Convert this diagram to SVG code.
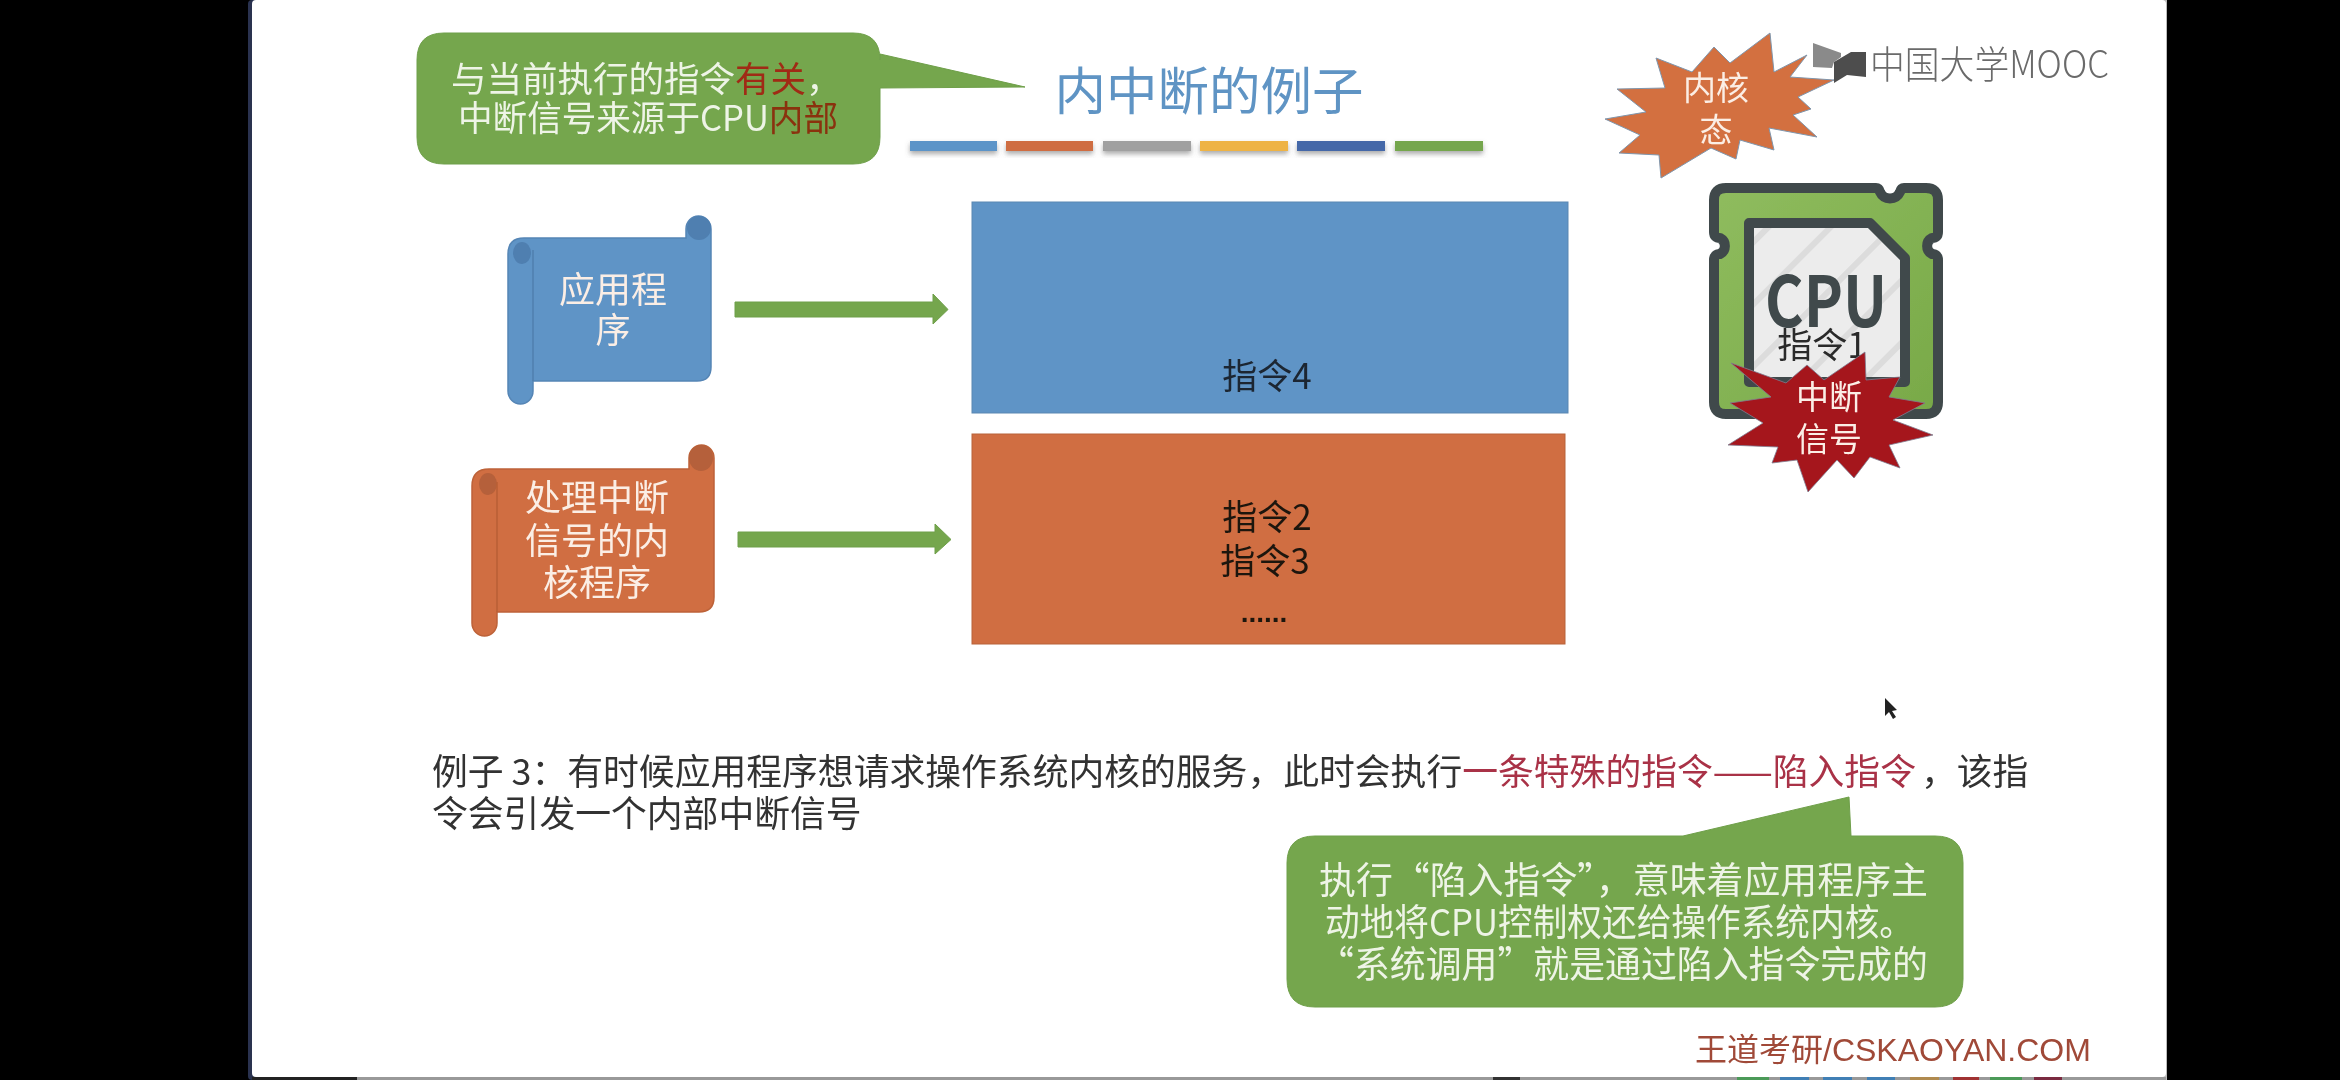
<svg xmlns="http://www.w3.org/2000/svg" width="2340" height="1080" viewBox="0 0 2340 1080">
<style>
text{font-family:"Noto Sans CJK SC","Liberation Sans",sans-serif}
.c{text-anchor:middle}
.w{fill:#eef4e6;font-size:35.500px}
.wb{fill:#eef4e6;font-size:37px}
.k{fill:#1c2530;font-size:35px}
.lbl{fill:#fbeee5;font-size:35px}
.body{fill:#333;font-size:35.800px}
.red{fill:#a93246}
.g{fill:#74a64d;stroke:#6f9f4a;stroke-width:1}
.bar{filter:url(#sh)}
.curl{stroke-width:1.5}
</style>
<defs>
<filter id="soft" x="0" y="0" width="100%" height="100%"><feGaussianBlur stdDeviation="0.6"/></filter>
<filter id="sh" x="-10%" y="-50%" width="120%" height="220%"><feDropShadow dx="0" dy="3" stdDeviation="2.5" flood-color="#555" flood-opacity=".5"/></filter>
<linearGradient id="chipg" x1="0" y1="0" x2="1" y2="1"><stop offset="0" stop-color="#8fbc5e"/><stop offset="1" stop-color="#78a948"/></linearGradient>
<pattern id="st" width="44" height="44" patternUnits="userSpaceOnUse" patternTransform="rotate(45)"><rect width="44" height="44" fill="#ececec"/><rect width="6" height="44" fill="#dcdcdc"/></pattern>
</defs>

<rect width="2340" height="1080" fill="#000"/>
<g filter="url(#soft)">
<g id="slide">
<rect x="248" y="0" width="1919" height="1080" rx="4" fill="#2a3350"/>
<rect x="2160" y="0" width="7" height="1080" fill="#bbb"/>
<rect x="252" y="0" width="1914" height="1077" rx="4" fill="#fff"/>
<rect x="252" y="1077" width="1914" height="3" fill="#999"/>
<rect x="252" y="1077" width="105" height="3" fill="#222"/>
<rect x="1493" y="1077" width="27" height="3" fill="#333"/>
<rect x="1737" y="1077" width="32" height="3" fill="#4c9a58"/>
<rect x="1780" y="1077" width="29" height="3" fill="#3f7fb5"/>
<rect x="1823" y="1077" width="29" height="3" fill="#3f7fb5"/>
<rect x="1867" y="1077" width="28" height="3" fill="#3f7fb5"/>
<rect x="1910" y="1077" width="29" height="3" fill="#b08a50"/>
<rect x="1953" y="1077" width="26" height="3" fill="#a03030"/>
<rect x="1990" y="1077" width="32" height="3" fill="#4c9a58"/>
<rect x="2034" y="1077" width="28" height="3" fill="#7a2a40"/>
</g>

<g id="title">
<text class="c" x="1209" y="110" font-size="51.500" fill="#5f94c4">内中断的例子</text>
<rect class="bar" x="910" y="141" width="87" height="10" fill="#5b94c8"/>
<rect class="bar" x="1006" y="141" width="87" height="10" fill="#cf6d42"/>
<rect class="bar" x="1103" y="141" width="88" height="10" fill="#a0a0a0"/>
<rect class="bar" x="1200" y="141" width="88" height="10" fill="#eeb345"/>
<rect class="bar" x="1297" y="141" width="88" height="10" fill="#4468a8"/>
<rect class="bar" x="1395" y="141" width="88" height="10" fill="#74a64e"/>
</g>

<g id="callout-top">
<path class="g" d="M444 33H853Q880 33 880 60V54L1025 87L880 88V137Q880 164 853 164H444Q417 164 417 137V60Q417 33 444 33Z"/>
<text class="w"><tspan x="451" y="92">与当前执行的指令<tspan fill="#a02a12">有关</tspan>，</tspan><tspan x="458" y="131" textLength="380" lengthAdjust="spacingAndGlyphs">中断信号来源于CPU<tspan fill="#8a3010">内部</tspan></tspan></text>
</g>

<g id="scroll-app">
<path d="M508 254Q508 238 524 238H686V229A12.500 13 0 0 1 711 229V367Q711 381 697 381H533V391A12.500 13 0 0 1 508 391Z" fill="#5f94c6" stroke="#5585b5" stroke-width="1.500"/>
<ellipse class="curl" cx="699" cy="228" rx="12" ry="12" fill="#4f7fb0"/>
<ellipse class="curl" cx="522" cy="253" rx="9" ry="11" fill="#4f7fb0"/>
<path d="M533 250V381" stroke="#4f7fae" stroke-width="1.500" fill="none"/>
<text class="lbl c"><tspan x="613" y="303" style="font-size:36px">应用程</tspan><tspan x="613" y="343">序</tspan></text>
</g>

<g id="scroll-kernel">
<path d="M472 486Q472 469 489 469H689V458A12.500 13 0 0 1 714 458V597Q714 612 699 612H497V623A12.500 13 0 0 1 472 623Z" fill="#d06e42" stroke="#bd6238" stroke-width="1.500"/>
<ellipse class="curl" cx="701" cy="458" rx="12" ry="13" fill="#b5603a"/>
<ellipse class="curl" cx="488" cy="484" rx="9" ry="11" fill="#b5603a"/>
<path d="M497 482V612" stroke="#b85f35" stroke-width="1.500" fill="none"/>
<text class="lbl c" style="font-size:36px"><tspan x="597" y="511">处理中断</tspan><tspan x="597" y="554">信号的内</tspan><tspan x="597" y="596">核程序</tspan></text>
</g>

<g id="connectors">
<polygon class="g" points="735,302 933,302 933,294 948,309.500 933,324 933,317 735,317"/>
<polygon class="g" points="738,532 935,532 935,524 951,539.500 935,554 935,547 738,547"/>
</g>

<g id="block-app">
<rect x="972" y="202" width="596" height="211" fill="#5f94c6" stroke="#5a87b2" stroke-width="1"/>
<text class="k c" x="1267" y="389">指令4</text>
</g>

<g id="block-kernel">
<rect x="972" y="434" width="593" height="210" fill="#d06e42" stroke="#b8633a" stroke-width="1"/>
<text class="c" fill="#1f1610" font-size="35"><tspan x="1267" y="530">指令2</tspan><tspan x="1265" y="574">指令3</tspan></text>
<text class="c" x="1264" y="622" font-size="28" font-weight="700" fill="#1f1610" style="font-family:'Liberation Sans',sans-serif">......</text>
</g>

<g id="burst-kernel-mode">
<polygon fill="#d3703f" stroke="#7f96ad" stroke-width="1" points="1770,33 1774,72 1807,55 1790,77 1834,80 1798,97 1811,109 1793,115 1817,137 1769,128 1774,150 1740,140 1736,159 1711,148 1661,178 1659,155 1619,153 1640,135 1605,119 1646,112 1617,89 1665,88 1656,58 1692,72 1714,47 1730,63"/>
<text class="lbl c" style="font-size:33px"><tspan x="1716" y="100">内核</tspan><tspan x="1716" y="142">态</tspan></text>
</g>

<g id="cpu">
<path d="M1726 188H1876Q1879 188 1880 192A11 11 0 0 0 1900 192Q1901 188 1904 188H1926Q1938 188 1938 200V232Q1938 238 1932 238A9 9 0 0 0 1932 254Q1938 254 1938 260V402Q1938 414 1926 414H1726Q1714 414 1714 402V260Q1714 254 1720 254A9 9 0 0 0 1720 238Q1714 238 1714 232V200Q1714 188 1726 188Z" fill="url(#chipg)" stroke="#3f4a4c" stroke-width="10" stroke-linejoin="round"/>
<path d="M1749 223H1870L1905 258V382H1749Z" fill="url(#st)" stroke="#3f4a4c" stroke-width="10" stroke-linejoin="round"/>
<text class="c" x="1826" y="327" font-family="DejaVu Sans" font-weight="700" font-size="70" fill="#3f4a4c" textLength="122" lengthAdjust="spacingAndGlyphs">CPU</text>
<text class="c" x="1822" y="358" font-size="35" fill="#2a2a2a">指令1</text>
</g>

<g id="burst-signal">
<polygon fill="#a5121e" stroke="#7f7f8f" stroke-width=".8" points="1731,363 1786,383 1807,365 1824,380 1865,352 1866,380 1900,377 1889,397 1925,403 1893,420 1933,435 1889,445 1900,468 1870,457 1854,478 1837,460 1808,492 1797,460 1772,463 1778,447 1728,445 1763,423 1730,403 1771,397"/>
<text class="lbl c" style="font-size:33px"><tspan x="1829" y="409">中断</tspan><tspan x="1829" y="451">信号</tspan></text>
</g>

<g id="description">
<text class="body"><tspan x="432" y="785">例子 3：有时候应用程序想请求操作系统内核的服务，此时会执行<tspan class="red">一条特殊的指令——陷入指令</tspan><tspan dx="5">，该指</tspan></tspan><tspan x="432" y="827">令会引发一个内部中断信号</tspan></text>
</g>

<g id="callout-bottom">
<path class="g" d="M1315 836H1683L1849 797L1851 836H1935Q1963 836 1963 863V979Q1963 1007 1935 1007H1315Q1287 1007 1287 979V863Q1287 836 1315 836Z"/>
<text class="wb"><tspan x="1319" y="894" textLength="609" lengthAdjust="spacingAndGlyphs">执行“陷入指令”，意味着应用程序主</tspan><tspan x="1325" y="936" textLength="589" lengthAdjust="spacingAndGlyphs">动地将CPU控制权还给操作系统内核。</tspan><tspan x="1318" y="978" textLength="610" lengthAdjust="spacingAndGlyphs">“系统调用”就是通过陷入指令完成的</tspan></text>
</g>

<g id="watermark">
<text x="1695" y="1061" font-size="32" fill="#a04a38" style="font-family:'Liberation Sans','Noto Sans CJK SC',sans-serif">王道考研/CSKAOYAN.COM</text>
</g>

<g id="mooc-logo">
<polygon points="1813,43 1841,53 1841,57 1834,62 1832,68 1813,67" fill="#8a8a8a"/>
<polygon points="1834,62 1851,52 1866,52 1866,77 1847,75 1834,83" fill="#4d4d4d"/>
<text x="1870" y="78" font-size="38" fill="#6a6a6a" font-weight="300" textLength="239" lengthAdjust="spacingAndGlyphs">中国大学MOOC</text>
</g>

<polygon id="cursor" points="1885,698 1885,716 1889,712 1893,719 1896,717 1892,711 1897,710" fill="#222"/>
</g>
</svg>
